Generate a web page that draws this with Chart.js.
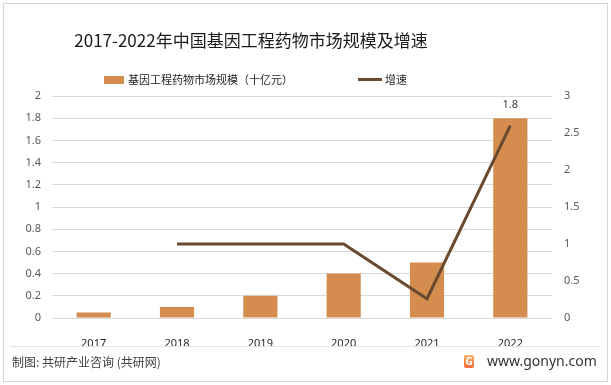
<!DOCTYPE html>
<html lang="zh-CN">
<head>
    <meta charset="UTF-8">
    <title>2017-2022年中国基因工程药物市场规模及增速</title>
    <script src="https://cdn.jsdelivr.net/npm/chart.js"></script>
    <style>
        html, body { margin: 0; padding: 0; background: #fff; }
        body {
            width: 611px; height: 385px; position: relative; overflow: hidden;
            font-family: "Noto Sans CJK SC", "Noto Sans", sans-serif;
        }
        #chart { position: absolute; left: 0; top: 0; }
        .frame {
            position: absolute; left: 3px; top: 3px; width: 605px; height: 379px;
            border: 1px solid #d6d6d6; box-sizing: border-box; pointer-events: none;
        }
        .title {
            position: absolute; left: 0; top: 30px; width: 502px; text-align: center;
            font-size: 17px; line-height: 20px; color: #1a1a1a;
        }
        .legend { position: absolute; top: 72px; height: 14px; font-size: 11px; line-height: 14px; color: #262626; }
        .swatch-bar { position: absolute; left: 104px; top: 76px; width: 20px; height: 8px; background: #d48c4f; }
        .swatch-line { position: absolute; left: 358px; top: 78px; width: 24px; height: 3px; background: #6a4a2e; }
        .sep { position: absolute; left: 10px; top: 346px; width: 590px; height: 1px; background: #e3e3e3; }
        .source { position: absolute; left: 12px; top: 354px; font-size: 12px; line-height: 16px; color: #404040; }
        .logo {
            position: absolute; left: 464px; top: 355px; width: 10px; height: 13px; border-radius: 2px;
            background: linear-gradient(180deg, #f7b267 0%, #f26b3a 100%);
            color: #fff; font: bold 10px/13px "Noto Sans", sans-serif; text-align: center;
        }
        .site { position: absolute; left: 487px; top: 352px; font-family: "Noto Sans", sans-serif; font-size: 14px; line-height: 18px; color: #333; }
    </style>
</head>
<body>
    <canvas id="chart" width="611" height="385"></canvas>
    <div class="frame"></div>
    <div class="title">2017-2022年中国基因工程药物市场规模及增速</div>
    <div class="swatch-bar"></div>
    <div class="legend" style="left:128px">基因工程药物市场规模（十亿元）</div>
    <div class="swatch-line"></div>
    <div class="legend" style="left:385px">增速</div>
    <div class="sep"></div>
    <div class="source">制图: 共研产业咨询 (共研网)</div>
    <div class="logo">G</div>
    <div class="site">www.gonyn.com</div>

    <script>
        // データ
        const years = ['2017', '2018', '2019', '2020', '2021', '2022'];
        const marketSize = [0.05, 0.1, 0.2, 0.4, 0.5, 1.8];
        const growthRate = [null, 1, 1, 1, 0.26, 2.6];
        const sizeLabels = ['', '', '', '', '', '1.8'];
        const leftMax = 2, leftStep = 0.2;
        const rightMax = 3, rightStep = 0.5;

        const tickFont = { family: '"Noto Sans", sans-serif', size: 11 };
        const fmt = v => String(Number(v.toFixed(1)));

        // 棒の上に数値ラベル
        const barLabels = {
            id: 'barLabels',
            afterDatasetsDraw(chart) {
                const meta = chart.getDatasetMeta(0);
                const ctx = chart.ctx;
                ctx.save();
                ctx.font = '11px "Noto Sans", sans-serif';
                ctx.fillStyle = '#404040';
                ctx.textAlign = 'center';
                ctx.textBaseline = 'middle';
                meta.data.forEach((bar, i) => {
                    if (sizeLabels[i]) ctx.fillText(sizeLabels[i], bar.x, bar.y - 13);
                });
                ctx.restore();
            }
        };

        new Chart(document.getElementById('chart'), {
            type: 'bar',
            data: {
                labels: years,
                datasets: [{
                    type: 'bar',
                    label: '基因工程药物市场规模（十亿元）',
                    data: marketSize,
                    backgroundColor: '#d48c4f',
                    categoryPercentage: 1,
                    barPercentage: 0.41,
                    yAxisID: 'y',
                    order: 2
                }, {
                    type: 'line',
                    label: '增速',
                    data: growthRate,
                    borderColor: '#6a4a2e',
                    borderWidth: 3,
                    pointRadius: 0,
                    tension: 0,
                    yAxisID: 'y1',
                    order: 1
                }]
            },
            options: {
                responsive: false,
                animation: false,
                layout: { padding: { top: 96, left: 0, right: 0, bottom: 0 } },
                plugins: { legend: { display: false }, tooltip: { enabled: false } },
                scales: {
                    x: {
                        grid: { display: false },
                        border: { display: false },
                        ticks: { color: '#262626', font: tickFont, padding: 11, maxRotation: 0 },
                        afterFit(s) { s.height = 67; }
                    },
                    y: {
                        position: 'left',
                        min: 0, max: leftMax,
                        ticks: { stepSize: leftStep, color: '#595959', font: tickFont, padding: 11, callback: fmt },
                        grid: { color: '#d9d9d9', drawTicks: false },
                        border: { display: false },
                        afterFit(s) { s.width = 52; }
                    },
                    y1: {
                        position: 'right',
                        min: 0, max: rightMax,
                        ticks: { stepSize: rightStep, color: '#595959', font: tickFont, padding: 12, callback: fmt },
                        grid: { display: false, drawTicks: false },
                        border: { display: false },
                        afterFit(s) { s.width = 59; }
                    }
                }
            },
            plugins: [barLabels]
        });
    </script>
</body>
</html>
